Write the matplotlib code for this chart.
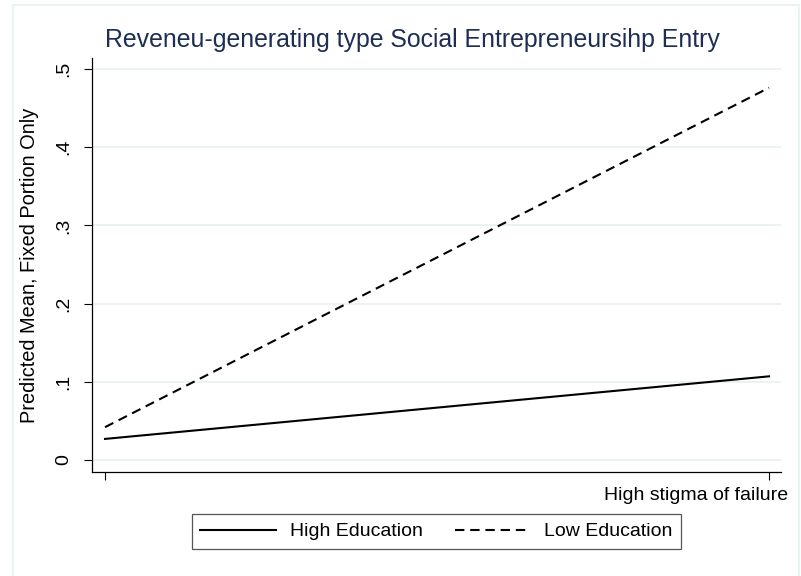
import matplotlib
matplotlib.use('Agg')
import matplotlib.pyplot as plt
from matplotlib.lines import Line2D

# Data (predicted means at the two stigma levels)
x_levels = [0, 1]
x_labels = ["", "High stigma of failure"]
high_edu = [0.027, 0.107]
low_edu = [0.042, 0.476]
y_ticks = [0, 0.1, 0.2, 0.3, 0.4, 0.5]
y_labels = ["0", ".1", ".2", ".3", ".4", ".5"]

plt.rcParams['font.family'] = ['Liberation Sans', 'DejaVu Sans']

W, H = 801, 576
fig = plt.figure(figsize=(W / 100, H / 100), dpi=100)

# light outer frame (Stata-style graph region)
frame_col = "#eaf2f3"
fig.add_artist(Line2D([13 / W, 13 / W], [0, 1 - 5 / H], color=frame_col, lw=1.5))
fig.add_artist(Line2D([13 / W, 799 / W], [1 - 5 / H, 1 - 5 / H], color=frame_col, lw=1.5))
fig.add_artist(Line2D([799 / W, 799 / W], [0, 1 - 5 / H], color=frame_col, lw=1.5))

left, right, top, bottom = 92, 781, 58, 472
ax = fig.add_axes([left / W, 1 - bottom / H, (right - left) / W, (bottom - top) / H])

ax.plot(x_levels, high_edu, color="black", lw=1.5, label="High Education")
ax.plot(x_levels, low_edu, color="black", lw=1.5, dashes=(4.5, 2.8), label="Low Education")

ax.set_xlim(-0.0196, 1.018)
ax.set_ylim(-0.0153, 0.514)

ax.set_yticks(y_ticks)
ax.set_yticklabels(y_labels, rotation=90, va="center", fontsize=14)
ax.set_xticks(x_levels)
ax.set_xticklabels(["", ""])
ax.tick_params(axis="y", length=6, width=0.8, pad=8)
ax.tick_params(axis="x", length=6, width=0.8)
ax.grid(axis="y", color="#eaf2f3", lw=1.4)
ax.set_axisbelow(True)

for s in ["top", "right"]:
    ax.spines[s].set_visible(False)
for s in ["left", "bottom"]:
    ax.spines[s].set_linewidth(0.9)

ax.set_ylabel("Predicted Mean, Fixed Portion Only", fontsize=14.4, labelpad=12)

fig.text(788 / W, 1 - 495 / H, x_labels[1], ha="right", va="center", fontsize=14)

fig.text(105 / W, 1 - 40 / H, "Reveneu-generating type Social Entrepreneursihp Entry",
         ha="left", va="center", fontsize=17.9, color="#1e2d53")

leg = ax.legend(loc="center", bbox_to_anchor=(436.5 / W, 1 - 531.5 / H),
                bbox_transform=fig.transFigure, ncol=2, fontsize=14,
                handlelength=3.9, handletextpad=0.7, columnspacing=1.65,
                fancybox=False, framealpha=1, borderpad=0.45)
leg.get_frame().set_edgecolor("#555555")
leg.get_frame().set_linewidth(0.9)

fig.savefig("out.png", dpi=100)
